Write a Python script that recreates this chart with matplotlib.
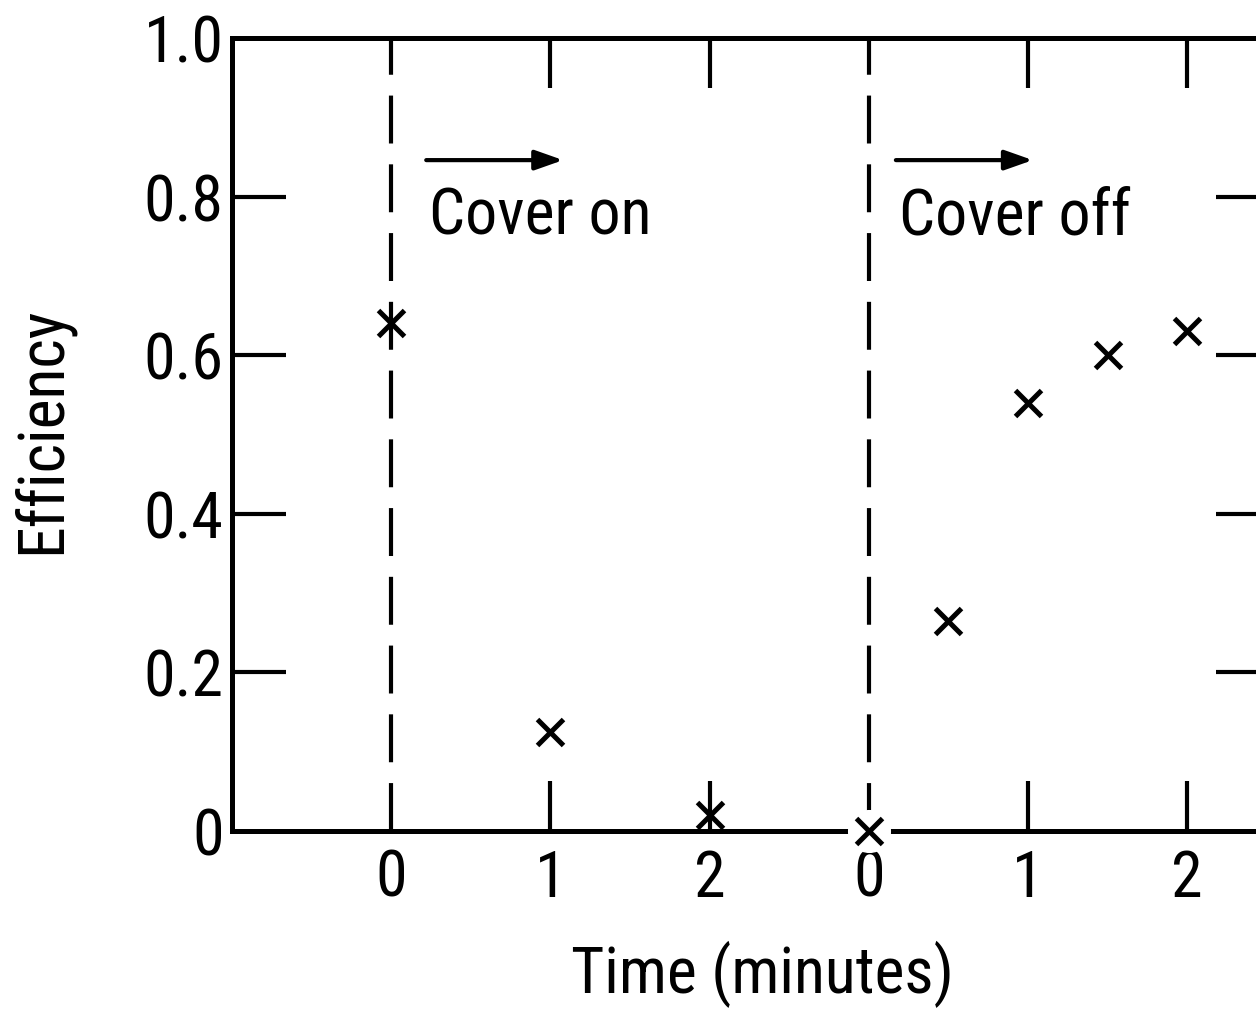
import matplotlib
matplotlib.use("Agg")
import matplotlib.pyplot as plt
import numpy as np

FONT = ['Roboto Condensed', 'Encode Sans Condensed', 'DejaVu Sans']
plt.rcParams['font.family'] = FONT

# Data: time axis is drawn as two consecutive segments (cover on, then cover off)
seg_on_time = [0, 1, 2]
seg_on_eff = [0.64, 0.125, 0.02]
seg_off_time = [0, 0.5, 1, 1.5, 2]
seg_off_eff = [0.0, 0.265, 0.54, 0.60, 0.63]
offset_off = 3  # position of the second "0" on the shared axis
xtick_labels = ['0', '1', '2', '0', '1', '2']
ytick_vals = [0, 0.2, 0.4, 0.6, 0.8, 1.0]
ytick_labels = ['0', '0.2', '0.4', '0.6', '0.8', '1.0']
annotations = ['Cover on', 'Cover off']

W, H = 1256, 1009
fig = plt.figure(figsize=(W / 100, H / 100), dpi=100)
ax_l, ax_r, ax_t, ax_b = 232, 1270, 38, 831
ax = fig.add_axes([ax_l / W, (H - ax_b) / H, (ax_r - ax_l) / W, (ax_b - ax_t) / H])
ax.set_xlim(-1, 5.52)
ax.set_ylim(0, 1.0)

for s in ax.spines.values():
    s.set_linewidth(3.6)
ax.spines['right'].set_visible(False)

FS = 46
xt = list(seg_on_time) + [offset_off + t for t in [0, 1, 2]]
ax.set_xticks(xt)
ax.set_xticklabels(xtick_labels, fontsize=FS)
ax.set_yticks(ytick_vals)
ax.set_yticklabels(ytick_labels, fontsize=FS)
ax.tick_params(axis='x', direction='in', length=36, width=3, top=True, bottom=True, pad=12)
ax.tick_params(axis='y', direction='in', length=39, width=3, left=True, right=True, pad=6)
for i in (0, 3):
    t = ax.xaxis.get_major_ticks()[i]
    t.tick1line.set_visible(False)
    t.tick2line.set_visible(False)
for i in (0, len(ytick_vals) - 1):
    t = ax.yaxis.get_major_ticks()[i]
    t.tick1line.set_visible(False)
    t.tick2line.set_visible(False)

# dashed vertical lines at the start of each segment
for xv in (0, offset_off):
    ax.plot([xv, xv], [0, 1], color='black', lw=3, linestyle=(0, (11.5, 5.0)),
            solid_capstyle='butt', zorder=2)

xs = list(seg_on_time) + [offset_off + t for t in seg_off_time]
ys = list(seg_on_eff) + list(seg_off_eff)
zero_x = [x for x, y in zip(xs, ys) if y == 0]
zero_y = [y for y in ys if y == 0]
ax.plot(zero_x, zero_y, linestyle='none', marker='o', markersize=30,
        markerfacecolor='white', markeredgecolor='white', clip_on=False, zorder=4)
ax.plot(xs, ys, linestyle='none', marker='x', markersize=19, markeredgewidth=3.6,
        color='black', clip_on=False, zorder=5)

# arrows and annotations
for x0, label in zip((0.22, offset_off + 0.17), annotations):
    ax.annotate('', xy=(x0 + 0.86, 0.846), xytext=(x0, 0.846),
                arrowprops=dict(arrowstyle='-|>,head_length=1.7,head_width=0.6',
                                lw=3, color='black', shrinkA=0, shrinkB=0))
    ax.text(x0 + 0.02, 0.752, label, fontsize=FS, ha='left', va='baseline')

fig.text(762 / W, (H - 993) / H, 'Time (minutes)', fontsize=FS, ha='center', va='baseline')
fig.text(42 / W, (H - 430) / H, 'Efficiency', fontsize=FS, ha='center', va='center',
         rotation=90)

fig.savefig('out.png', dpi=100)
